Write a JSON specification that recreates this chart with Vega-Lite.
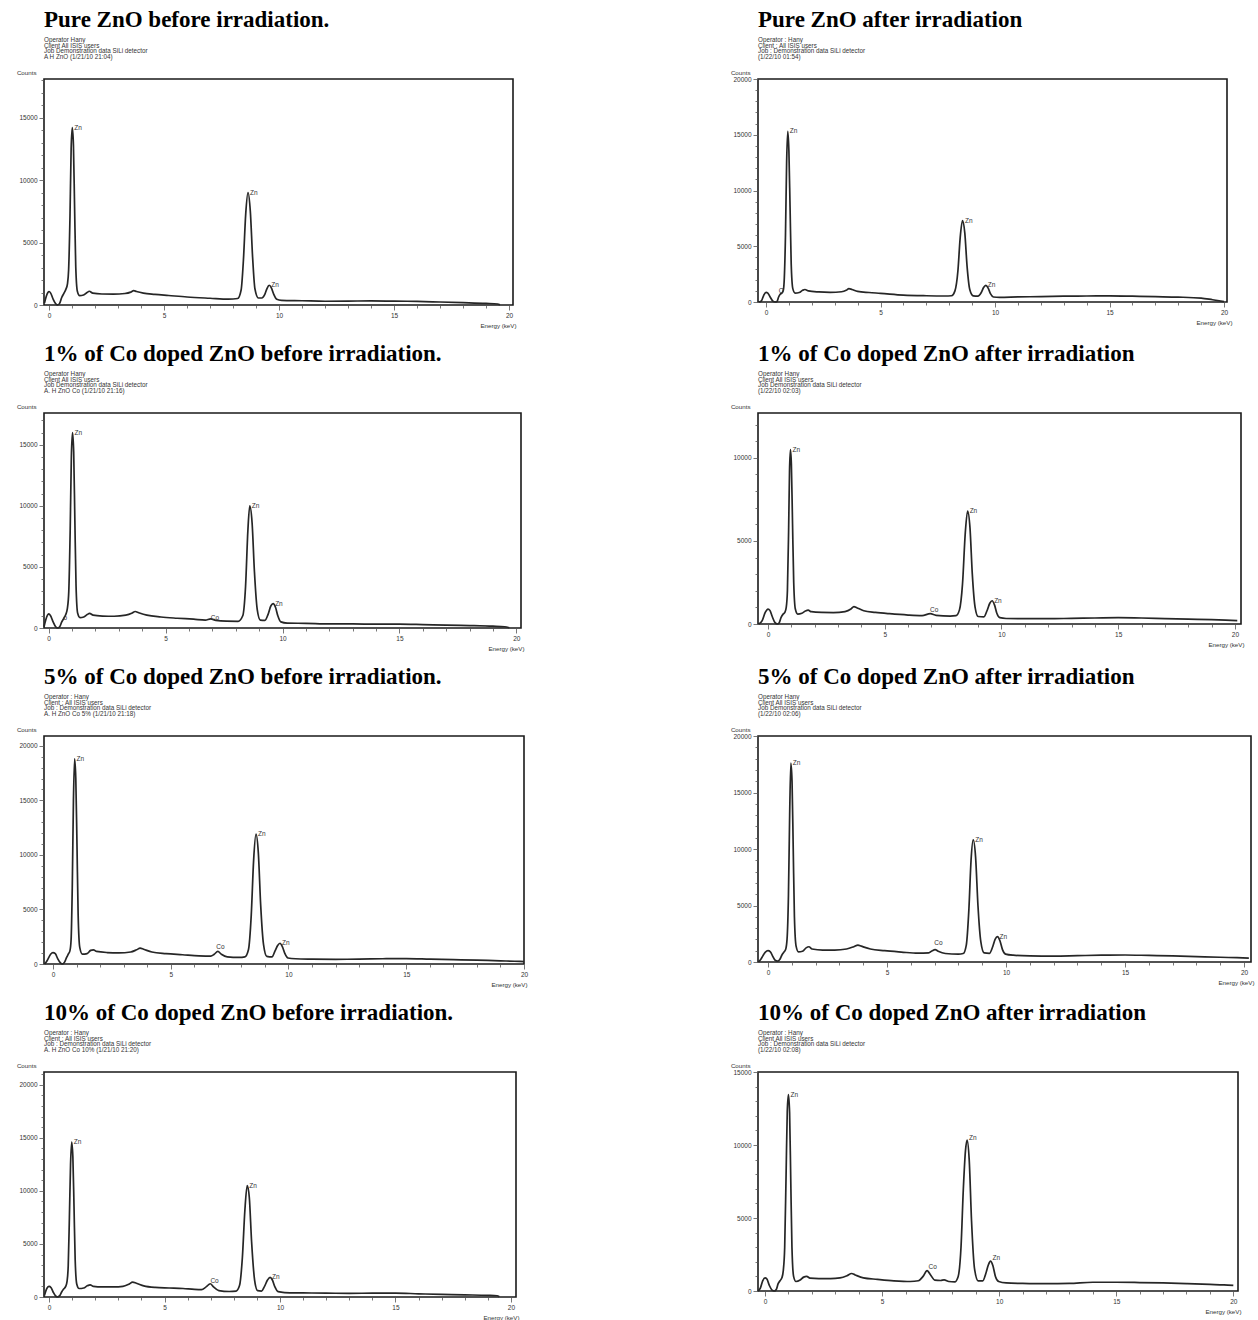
{
"$schema": "https://vega.github.io/schema/vega-lite/v6.json",
"background": "white",
"padding": {"left": 15, "top": 8, "right": 4, "bottom": 2},
"columns": 2,
"bounds": "flush",
"align": "each",
"spacing": {"row": 108, "column": 234},
"config": {
 "view": {"stroke": "#1a1a1a", "strokeWidth": 1.6},
 "font": "Liberation Sans",
 "title": {"font": "Liberation Serif", "fontSize": 23, "fontWeight": "bold", "color": "#000", "anchor": "start", "frame": "group", "offset": 9, "subtitleFont": "Liberation Sans", "subtitleFontSize": 6.3, "subtitleColor": "#333", "subtitlePadding": 5, "subtitleLineHeight": 5.6},
 "axis": {"labelFont": "Liberation Sans", "labelFontSize": 6.5, "labelColor": "#333", "titleFont": "Liberation Sans", "titleFontSize": 6.2, "titleFontWeight": "normal", "titleColor": "#333", "tickColor": "#555", "tickWidth": 0.8, "domain": false, "grid": false, "labelPadding": 2, "labelOverlap": false, "labelFlush": false},
 "axisY": {"titleAngle": 0, "titleX": -8, "titleY": -7, "titleAlign": "right", "titleBaseline": "middle"},
 "axisX": {"titleY": 20, "titleAlign": "right", "titleBaseline": "middle"},
 "line": {"stroke": "#262626", "strokeWidth": 1.7, "interpolate": "monotone", "clip": true},
 "text": {"font": "Liberation Sans", "fontSize": 6.5, "fill": "#333", "align": "left", "baseline": "middle", "dx": 2}
},
"datasets": {
"s1": [{"e":-0.2,"c":150},{"e":-0.12,"c":700},{"e":-0.05,"c":1000},{"e":0,"c":1080},{"e":0.07,"c":950},{"e":0.17,"c":500},{"e":0.28,"c":120},{"e":0.36,"c":10},{"e":0.45,"c":100},{"e":0.55,"c":600},{"e":0.65,"c":950},{"e":0.73,"c":1250},{"e":0.8,"c":1700},{"e":0.85,"c":2800},{"e":0.91,"c":7100},{"e":0.96,"c":12500},{"e":1.01,"c":14200},{"e":1.06,"c":12800},{"e":1.11,"c":7800},{"e":1.16,"c":3100},{"e":1.23,"c":1100},{"e":1.33,"c":750},{"e":1.5,"c":800},{"e":1.65,"c":1000},{"e":1.75,"c":1100},{"e":1.9,"c":950},{"e":2.3,"c":880},{"e":2.8,"c":870},{"e":3.3,"c":920},{"e":3.55,"c":1030},{"e":3.68,"c":1150},{"e":3.8,"c":1080},{"e":4.1,"c":950},{"e":4.6,"c":850},{"e":5.2,"c":760},{"e":6,"c":640},{"e":7,"c":540},{"e":7.8,"c":470},{"e":8.2,"c":520},{"e":8.35,"c":1200},{"e":8.45,"c":3600},{"e":8.55,"c":7300},{"e":8.65,"c":9000},{"e":8.75,"c":7500},{"e":8.85,"c":3800},{"e":8.95,"c":1300},{"e":9.1,"c":560},{"e":9.25,"c":560},{"e":9.38,"c":850},{"e":9.47,"c":1300},{"e":9.57,"c":1580},{"e":9.67,"c":1350},{"e":9.77,"c":850},{"e":9.9,"c":460},{"e":10.1,"c":370},{"e":11,"c":340},{"e":12,"c":300},{"e":13,"c":310},{"e":14,"c":330},{"e":15,"c":310},{"e":16,"c":290},{"e":17,"c":240},{"e":18,"c":190},{"e":19,"c":130},{"e":19.5,"c":80},{"e":19.6,"c":10}],
"l1": [{"e":1.01,"c":14200,"t":"Zn"},{"e":8.65,"c":9000,"t":"Zn"},{"e":9.57,"c":1580,"t":"Zn"}],
"s2": [{"e":-0.3,"c":0},{"e":-0.2,"c":100},{"e":-0.1,"c":600},{"e":0,"c":870},{"e":0.08,"c":800},{"e":0.18,"c":450},{"e":0.3,"c":80},{"e":0.4,"c":0},{"e":0.48,"c":50},{"e":0.55,"c":450},{"e":0.62,"c":700},{"e":0.7,"c":800},{"e":0.76,"c":1100},{"e":0.8,"c":2200},{"e":0.85,"c":6000},{"e":0.9,"c":12500},{"e":0.95,"c":15300},{"e":1.0,"c":13500},{"e":1.05,"c":8500},{"e":1.1,"c":3400},{"e":1.17,"c":1200},{"e":1.27,"c":800},{"e":1.45,"c":850},{"e":1.6,"c":1050},{"e":1.7,"c":1120},{"e":1.85,"c":1000},{"e":2.3,"c":900},{"e":2.8,"c":860},{"e":3.3,"c":920},{"e":3.5,"c":1050},{"e":3.62,"c":1200},{"e":3.75,"c":1120},{"e":4.0,"c":950},{"e":4.5,"c":850},{"e":5,"c":780},{"e":6,"c":620},{"e":7,"c":560},{"e":7.8,"c":540},{"e":8.1,"c":560},{"e":8.25,"c":1000},{"e":8.38,"c":2800},{"e":8.48,"c":5800},{"e":8.58,"c":7300},{"e":8.68,"c":6200},{"e":8.78,"c":3200},{"e":8.9,"c":1100},{"e":9.05,"c":550},{"e":9.25,"c":520},{"e":9.4,"c":850},{"e":9.5,"c":1300},{"e":9.6,"c":1500},{"e":9.7,"c":1250},{"e":9.8,"c":750},{"e":9.93,"c":450},{"e":10.2,"c":420},{"e":11,"c":460},{"e":12,"c":480},{"e":13,"c":520},{"e":14,"c":540},{"e":15,"c":550},{"e":16,"c":520},{"e":17,"c":480},{"e":18,"c":440},{"e":19,"c":350},{"e":19.5,"c":200},{"e":20,"c":40}],
"l2": [{"e":0.47,"c":1000,"t":"O"},{"e":0.95,"c":15300,"t":"Zn"},{"e":8.6,"c":7300,"t":"Zn"},{"e":9.6,"c":1500,"t":"Zn"}],
"s3": [{"e":-0.2,"c":100},{"e":-0.12,"c":700},{"e":-0.05,"c":1050},{"e":0,"c":1150},{"e":0.08,"c":1000},{"e":0.18,"c":550},{"e":0.3,"c":100},{"e":0.38,"c":0},{"e":0.47,"c":100},{"e":0.56,"c":500},{"e":0.65,"c":800},{"e":0.73,"c":1100},{"e":0.8,"c":1600},{"e":0.86,"c":3000},{"e":0.92,"c":8000},{"e":0.97,"c":14000},{"e":1.02,"c":16000},{"e":1.07,"c":14400},{"e":1.12,"c":8800},{"e":1.17,"c":3500},{"e":1.24,"c":1200},{"e":1.34,"c":850},{"e":1.5,"c":900},{"e":1.65,"c":1100},{"e":1.75,"c":1200},{"e":1.9,"c":1050},{"e":2.3,"c":980},{"e":2.8,"c":960},{"e":3.3,"c":1050},{"e":3.55,"c":1200},{"e":3.7,"c":1350},{"e":3.85,"c":1250},{"e":4.2,"c":1050},{"e":4.8,"c":900},{"e":5.5,"c":800},{"e":6.2,"c":720},{"e":6.7,"c":650},{"e":6.93,"c":750},{"e":7.15,"c":620},{"e":7.6,"c":560},{"e":8.1,"c":550},{"e":8.3,"c":1000},{"e":8.42,"c":3400},{"e":8.52,"c":8000},{"e":8.6,"c":10000},{"e":8.7,"c":8600},{"e":8.8,"c":4600},{"e":8.92,"c":1500},{"e":9.05,"c":650},{"e":9.25,"c":620},{"e":9.38,"c":1100},{"e":9.5,"c":1800},{"e":9.6,"c":2000},{"e":9.7,"c":1700},{"e":9.8,"c":1000},{"e":9.93,"c":500},{"e":10.2,"c":400},{"e":11,"c":380},{"e":12,"c":330},{"e":13,"c":330},{"e":14,"c":320},{"e":15,"c":320},{"e":16,"c":280},{"e":17,"c":230},{"e":18,"c":200},{"e":19,"c":150},{"e":19.5,"c":100},{"e":19.7,"c":20}],
"l3": [{"e":0.55,"c":800,"t":"o"},{"e":1.02,"c":16000,"t":"Zn"},{"e":6.85,"c":850,"t":"Co"},{"e":8.6,"c":10000,"t":"Zn"},{"e":9.6,"c":2000,"t":"Zn"}],
"s4": [{"e":-0.4,"c":0},{"e":-0.25,"c":200},{"e":-0.12,"c":700},{"e":0,"c":900},{"e":0.08,"c":820},{"e":0.18,"c":450},{"e":0.3,"c":80},{"e":0.4,"c":0},{"e":0.48,"c":80},{"e":0.56,"c":400},{"e":0.65,"c":600},{"e":0.72,"c":700},{"e":0.78,"c":1000},{"e":0.83,"c":2000},{"e":0.88,"c":5500},{"e":0.92,"c":9200},{"e":0.96,"c":10500},{"e":1.0,"c":9600},{"e":1.05,"c":6000},{"e":1.1,"c":2500},{"e":1.17,"c":900},{"e":1.27,"c":600},{"e":1.45,"c":650},{"e":1.6,"c":780},{"e":1.72,"c":830},{"e":1.85,"c":740},{"e":2.3,"c":700},{"e":2.8,"c":690},{"e":3.3,"c":750},{"e":3.55,"c":900},{"e":3.68,"c":1050},{"e":3.8,"c":980},{"e":4.1,"c":800},{"e":4.6,"c":700},{"e":5.2,"c":620},{"e":6,"c":540},{"e":6.6,"c":510},{"e":6.95,"c":620},{"e":7.2,"c":520},{"e":7.8,"c":480},{"e":8.05,"c":500},{"e":8.2,"c":850},{"e":8.33,"c":2400},{"e":8.45,"c":5500},{"e":8.55,"c":6800},{"e":8.65,"c":5800},{"e":8.75,"c":3000},{"e":8.87,"c":1000},{"e":9.0,"c":450},{"e":9.25,"c":430},{"e":9.38,"c":800},{"e":9.5,"c":1250},{"e":9.6,"c":1400},{"e":9.7,"c":1150},{"e":9.8,"c":650},{"e":9.93,"c":380},{"e":10.2,"c":330},{"e":11,"c":320},{"e":12,"c":320},{"e":13,"c":340},{"e":14,"c":360},{"e":15,"c":380},{"e":16,"c":360},{"e":17,"c":320},{"e":18,"c":290},{"e":19,"c":260},{"e":19.6,"c":230},{"e":20.1,"c":200}],
"l4": [{"e":0.96,"c":10500,"t":"Zn"},{"e":6.85,"c":850,"t":"Co"},{"e":8.55,"c":6800,"t":"Zn"},{"e":9.6,"c":1400,"t":"Zn"}],
"s5": [{"e":-0.35,"c":0},{"e":-0.25,"c":300},{"e":-0.1,"c":900},{"e":0,"c":1050},{"e":0.1,"c":950},{"e":0.2,"c":500},{"e":0.32,"c":100},{"e":0.4,"c":0},{"e":0.5,"c":200},{"e":0.58,"c":600},{"e":0.65,"c":900},{"e":0.72,"c":1200},{"e":0.77,"c":2200},{"e":0.82,"c":7000},{"e":0.87,"c":15000},{"e":0.92,"c":18800},{"e":0.97,"c":17000},{"e":1.02,"c":11000},{"e":1.07,"c":4500},{"e":1.14,"c":1500},{"e":1.25,"c":900},{"e":1.45,"c":950},{"e":1.6,"c":1250},{"e":1.72,"c":1300},{"e":1.85,"c":1150},{"e":2.3,"c":1050},{"e":2.8,"c":1020},{"e":3.3,"c":1100},{"e":3.55,"c":1300},{"e":3.7,"c":1450},{"e":3.85,"c":1350},{"e":4.2,"c":1100},{"e":4.8,"c":950},{"e":5.5,"c":850},{"e":6.2,"c":750},{"e":6.7,"c":720},{"e":6.85,"c":900},{"e":7.0,"c":1150},{"e":7.15,"c":900},{"e":7.4,"c":650},{"e":7.9,"c":600},{"e":8.15,"c":650},{"e":8.3,"c":1300},{"e":8.42,"c":4500},{"e":8.52,"c":9500},{"e":8.62,"c":11900},{"e":8.72,"c":10200},{"e":8.82,"c":5400},{"e":8.94,"c":1800},{"e":9.08,"c":700},{"e":9.3,"c":650},{"e":9.43,"c":1200},{"e":9.54,"c":1700},{"e":9.64,"c":1900},{"e":9.74,"c":1600},{"e":9.85,"c":950},{"e":9.98,"c":550},{"e":10.3,"c":480},{"e":11,"c":450},{"e":12,"c":430},{"e":13,"c":450},{"e":14,"c":480},{"e":15,"c":500},{"e":16,"c":450},{"e":17,"c":400},{"e":18,"c":350},{"e":19,"c":290},{"e":19.6,"c":250},{"e":20,"c":220}],
"l5": [{"e":0.92,"c":18800,"t":"Zn"},{"e":6.85,"c":1550,"t":"Co"},{"e":8.62,"c":11900,"t":"Zn"},{"e":9.64,"c":1900,"t":"Zn"}],
"s6": [{"e":-0.4,"c":0},{"e":-0.3,"c":250},{"e":-0.12,"c":850},{"e":0,"c":1000},{"e":0.1,"c":900},{"e":0.2,"c":500},{"e":0.3,"c":150},{"e":0.4,"c":80},{"e":0.5,"c":250},{"e":0.58,"c":600},{"e":0.66,"c":850},{"e":0.74,"c":1100},{"e":0.8,"c":2000},{"e":0.86,"c":6000},{"e":0.91,"c":13000},{"e":0.96,"c":17600},{"e":1.01,"c":16000},{"e":1.06,"c":10000},{"e":1.11,"c":4000},{"e":1.18,"c":1400},{"e":1.28,"c":900},{"e":1.45,"c":950},{"e":1.6,"c":1250},{"e":1.72,"c":1350},{"e":1.85,"c":1150},{"e":2.3,"c":1050},{"e":2.8,"c":1050},{"e":3.3,"c":1150},{"e":3.6,"c":1350},{"e":3.78,"c":1500},{"e":3.92,"c":1400},{"e":4.3,"c":1150},{"e":4.9,"c":1000},{"e":5.6,"c":880},{"e":6.3,"c":780},{"e":6.75,"c":800},{"e":6.9,"c":1000},{"e":7.02,"c":1100},{"e":7.15,"c":950},{"e":7.45,"c":750},{"e":8.0,"c":700},{"e":8.2,"c":750},{"e":8.33,"c":1500},{"e":8.44,"c":4700},{"e":8.53,"c":9000},{"e":8.62,"c":10800},{"e":8.72,"c":9300},{"e":8.82,"c":5000},{"e":8.94,"c":1800},{"e":9.08,"c":800},{"e":9.3,"c":760},{"e":9.43,"c":1300},{"e":9.54,"c":2000},{"e":9.64,"c":2250},{"e":9.74,"c":1900},{"e":9.85,"c":1100},{"e":9.98,"c":700},{"e":10.3,"c":600},{"e":11,"c":540},{"e":12,"c":520},{"e":13,"c":560},{"e":14,"c":600},{"e":15,"c":620},{"e":16,"c":580},{"e":17,"c":540},{"e":18,"c":480},{"e":19,"c":420},{"e":19.7,"c":380},{"e":20.2,"c":350}],
"l6": [{"e":0.96,"c":17600,"t":"Zn"},{"e":6.9,"c":1650,"t":"Co"},{"e":8.62,"c":10800,"t":"Zn"},{"e":9.64,"c":2250,"t":"Zn"}],
"s7": [{"e":-0.2,"c":150},{"e":-0.12,"c":700},{"e":-0.05,"c":950},{"e":0,"c":1000},{"e":0.08,"c":900},{"e":0.18,"c":450},{"e":0.28,"c":100},{"e":0.36,"c":0},{"e":0.45,"c":100},{"e":0.55,"c":500},{"e":0.63,"c":750},{"e":0.72,"c":1000},{"e":0.78,"c":1500},{"e":0.83,"c":3000},{"e":0.88,"c":7500},{"e":0.93,"c":12500},{"e":0.98,"c":14600},{"e":1.03,"c":13200},{"e":1.08,"c":8500},{"e":1.13,"c":3500},{"e":1.2,"c":1200},{"e":1.3,"c":800},{"e":1.5,"c":850},{"e":1.65,"c":1050},{"e":1.78,"c":1150},{"e":1.92,"c":1000},{"e":2.3,"c":950},{"e":2.8,"c":950},{"e":3.2,"c":1000},{"e":3.45,"c":1200},{"e":3.62,"c":1400},{"e":3.78,"c":1300},{"e":4.1,"c":1050},{"e":4.6,"c":900},{"e":5.2,"c":850},{"e":5.8,"c":800},{"e":6.3,"c":720},{"e":6.6,"c":700},{"e":6.8,"c":950},{"e":6.98,"c":1250},{"e":7.12,"c":950},{"e":7.35,"c":600},{"e":7.8,"c":520},{"e":8.1,"c":560},{"e":8.25,"c":1100},{"e":8.37,"c":3700},{"e":8.48,"c":8200},{"e":8.58,"c":10500},{"e":8.67,"c":9400},{"e":8.77,"c":5200},{"e":8.9,"c":1600},{"e":9.03,"c":600},{"e":9.2,"c":560},{"e":9.33,"c":1000},{"e":9.46,"c":1600},{"e":9.57,"c":1850},{"e":9.67,"c":1600},{"e":9.78,"c":950},{"e":9.92,"c":500},{"e":10.2,"c":420},{"e":11,"c":390},{"e":12,"c":360},{"e":13,"c":350},{"e":14,"c":360},{"e":15,"c":370},{"e":16,"c":300},{"e":17,"c":240},{"e":18,"c":200},{"e":19,"c":160},{"e":19.4,"c":120},{"e":19.5,"c":20}],
"l7": [{"e":0.98,"c":14600,"t":"Zn"},{"e":6.9,"c":1500,"t":"Co"},{"e":8.58,"c":10500,"t":"Zn"},{"e":9.57,"c":1850,"t":"Zn"}],
"s8": [{"e":-0.3,"c":0},{"e":-0.2,"c":200},{"e":-0.1,"c":700},{"e":0,"c":900},{"e":0.08,"c":820},{"e":0.18,"c":400},{"e":0.3,"c":60},{"e":0.4,"c":0},{"e":0.48,"c":100},{"e":0.56,"c":500},{"e":0.64,"c":700},{"e":0.72,"c":900},{"e":0.78,"c":1400},{"e":0.84,"c":3000},{"e":0.9,"c":8000},{"e":0.95,"c":12300},{"e":1.0,"c":13450},{"e":1.05,"c":12200},{"e":1.1,"c":7500},{"e":1.15,"c":3000},{"e":1.22,"c":1000},{"e":1.32,"c":650},{"e":1.5,"c":750},{"e":1.65,"c":950},{"e":1.78,"c":1000},{"e":1.92,"c":880},{"e":2.3,"c":850},{"e":2.8,"c":850},{"e":3.2,"c":900},{"e":3.5,"c":1050},{"e":3.7,"c":1200},{"e":3.85,"c":1100},{"e":4.2,"c":900},{"e":4.8,"c":800},{"e":5.5,"c":700},{"e":6.2,"c":650},{"e":6.55,"c":700},{"e":6.75,"c":1000},{"e":6.92,"c":1400},{"e":7.05,"c":1150},{"e":7.25,"c":750},{"e":7.5,"c":720},{"e":7.65,"c":760},{"e":7.85,"c":650},{"e":8.1,"c":620},{"e":8.25,"c":1000},{"e":8.37,"c":3000},{"e":8.47,"c":7000},{"e":8.56,"c":9600},{"e":8.63,"c":10340},{"e":8.72,"c":9000},{"e":8.82,"c":4800},{"e":8.95,"c":1500},{"e":9.1,"c":700},{"e":9.3,"c":700},{"e":9.43,"c":1200},{"e":9.54,"c":1800},{"e":9.63,"c":2050},{"e":9.73,"c":1750},{"e":9.84,"c":1000},{"e":9.98,"c":650},{"e":10.3,"c":550},{"e":11,"c":520},{"e":12,"c":500},{"e":13,"c":520},{"e":14,"c":600},{"e":15,"c":600},{"e":16,"c":580},{"e":17,"c":550},{"e":18,"c":500},{"e":19,"c":450},{"e":19.6,"c":420},{"e":20,"c":380}],
"l8": [{"e":1.0,"c":13450,"t":"Zn"},{"e":6.9,"c":1650,"t":"Co"},{"e":8.63,"c":10500,"t":"Zn"},{"e":9.63,"c":2250,"t":"Zn"}]
},
"concat": [
{"width": 469, "height": 226,
 "title": {"text": "Pure ZnO before irradiation.", "subtitle": ["Operator  Hany", "Client  All  ISIS  users", "Job  Demonstration data  SiLi detector", "A H ZnO (1/21/10 21:04)"]},
 "layer": [
  {"data": {"name": "s1"}, "mark": {"type": "line"},
   "encoding": {
    "x": {"field": "e", "type": "quantitative", "scale": {"domain": [-0.22, 20.17], "nice": false, "zero": false},
      "axis": {"title": "Energy (keV)", "titleX": 472, "tickCount": 500, "labelOverlap": false, "values": [0,1,2,3,4,5,6,7,8,9,10,11,12,13,14,15,16,17,18,19,20], "labelExpr": "datum.value % 5 === 0 ? '' + datum.value : ''", "tickSize": {"condition": {"test": "datum.value % 5 === 0", "value": 5}, "value": 3}}},
    "y": {"field": "c", "type": "quantitative", "scale": {"domain": [0, 18100], "nice": false},
      "axis": {"title": "Counts", "tickCount": 500, "labelOverlap": false, "values": [0,1000,2000,3000,4000,5000,6000,7000,8000,9000,10000,11000,12000,13000,14000,15000,16000,17000,18000], "labelExpr": "datum.value % 5000 === 0 ? '' + datum.value : ''", "tickSize": {"condition": {"test": "datum.value % 5000 === 0", "value": 5}, "value": 3}}}}},
  {"data": {"name": "l1"}, "mark": {"type": "text"},
   "encoding": {"x": {"field": "e", "type": "quantitative"}, "y": {"field": "c", "type": "quantitative"}, "text": {"field": "t"}}}
 ]},
{"width": 469, "height": 223,
 "title": {"text": "Pure ZnO after irradiation", "subtitle": ["Operator : Hany", "Client : All  ISIS  users", "Job : Demonstration data  SiLi detector", " (1/22/10 01:54)"]},
 "layer": [
  {"data": {"name": "s2"}, "mark": {"type": "line"},
   "encoding": {
    "x": {"field": "e", "type": "quantitative", "scale": {"domain": [-0.35, 20.13], "nice": false, "zero": false},
      "axis": {"title": "Energy (keV)", "titleX": 474, "tickCount": 500, "labelOverlap": false, "values": [0,1,2,3,4,5,6,7,8,9,10,11,12,13,14,15,16,17,18,19,20], "labelExpr": "datum.value % 5 === 0 ? '' + datum.value : ''", "tickSize": {"condition": {"test": "datum.value % 5 === 0", "value": 5}, "value": 3}}},
    "y": {"field": "c", "type": "quantitative", "scale": {"domain": [0, 20000], "nice": false},
      "axis": {"title": "Counts", "tickCount": 500, "labelOverlap": false, "values": [0,1000,2000,3000,4000,5000,6000,7000,8000,9000,10000,11000,12000,13000,14000,15000,16000,17000,18000,19000,20000], "labelExpr": "datum.value % 5000 === 0 ? '' + datum.value : ''", "tickSize": {"condition": {"test": "datum.value % 5000 === 0", "value": 5}, "value": 3}}}}},
  {"data": {"name": "l2"}, "mark": {"type": "text"},
   "encoding": {"x": {"field": "e", "type": "quantitative"}, "y": {"field": "c", "type": "quantitative"}, "text": {"field": "t"}}}
 ]},
{"width": 477, "height": 215,
 "title": {"text": "1% of Co doped  ZnO before irradiation.", "subtitle": ["Operator  Hany", "Client  All  ISIS  users", "Job  Demonstration data  SiLi detector", "A. H ZnO Co (1/21/10 21:16)"]},
 "layer": [
  {"data": {"name": "s3"}, "mark": {"type": "line"},
   "encoding": {
    "x": {"field": "e", "type": "quantitative", "scale": {"domain": [-0.2, 20.2], "nice": false, "zero": false},
      "axis": {"title": "Energy (keV)", "titleX": 480, "tickCount": 500, "labelOverlap": false, "values": [0,1,2,3,4,5,6,7,8,9,10,11,12,13,14,15,16,17,18,19,20], "labelExpr": "datum.value % 5 === 0 ? '' + datum.value : ''", "tickSize": {"condition": {"test": "datum.value % 5 === 0", "value": 5}, "value": 3}}},
    "y": {"field": "c", "type": "quantitative", "scale": {"domain": [0, 17600], "nice": false},
      "axis": {"title": "Counts", "tickCount": 500, "labelOverlap": false, "values": [0,1000,2000,3000,4000,5000,6000,7000,8000,9000,10000,11000,12000,13000,14000,15000,16000,17000], "labelExpr": "datum.value % 5000 === 0 ? '' + datum.value : ''", "tickSize": {"condition": {"test": "datum.value % 5000 === 0", "value": 5}, "value": 3}}}}},
  {"data": {"name": "l3"}, "mark": {"type": "text"},
   "encoding": {"x": {"field": "e", "type": "quantitative"}, "y": {"field": "c", "type": "quantitative"}, "text": {"field": "t"}}}
 ]},
{"width": 483, "height": 211,
 "title": {"text": "1% of Co doped  ZnO after irradiation", "subtitle": ["Operator  Hany", "Client  All  ISIS  users", "Job  Demonstration data  SiLi detector", " (1/22/10 02:03)"]},
 "layer": [
  {"data": {"name": "s4"}, "mark": {"type": "line"},
   "encoding": {
    "x": {"field": "e", "type": "quantitative", "scale": {"domain": [-0.43, 20.26], "nice": false, "zero": false},
      "axis": {"title": "Energy (keV)", "titleX": 486, "tickCount": 500, "labelOverlap": false, "values": [0,1,2,3,4,5,6,7,8,9,10,11,12,13,14,15,16,17,18,19,20], "labelExpr": "datum.value % 5 === 0 ? '' + datum.value : ''", "tickSize": {"condition": {"test": "datum.value % 5 === 0", "value": 5}, "value": 3}}},
    "y": {"field": "c", "type": "quantitative", "scale": {"domain": [0, 12700], "nice": false},
      "axis": {"title": "Counts", "tickCount": 500, "labelOverlap": false, "values": [0,1000,2000,3000,4000,5000,6000,7000,8000,9000,10000,11000,12000], "labelExpr": "datum.value % 5000 === 0 ? '' + datum.value : ''", "tickSize": {"condition": {"test": "datum.value % 5000 === 0", "value": 5}, "value": 3}}}}},
  {"data": {"name": "l4"}, "mark": {"type": "text"},
   "encoding": {"x": {"field": "e", "type": "quantitative"}, "y": {"field": "c", "type": "quantitative"}, "text": {"field": "t"}}}
 ]},
{"width": 480, "height": 228,
 "title": {"text": "5% of Co doped  ZnO before irradiation.", "subtitle": ["Operator : Hany", "Client : All  ISIS  users", "Job : Demonstration data  SiLi detector", "A. H ZnO Co 5% (1/21/10 21:18)"]},
 "layer": [
  {"data": {"name": "s5"}, "mark": {"type": "line"},
   "encoding": {
    "x": {"field": "e", "type": "quantitative", "scale": {"domain": [-0.38, 20.0], "nice": false, "zero": false},
      "axis": {"title": "Energy (keV)", "titleX": 483, "tickCount": 500, "labelOverlap": false, "values": [0,1,2,3,4,5,6,7,8,9,10,11,12,13,14,15,16,17,18,19,20], "labelExpr": "datum.value % 5 === 0 ? '' + datum.value : ''", "tickSize": {"condition": {"test": "datum.value % 5 === 0", "value": 5}, "value": 3}}},
    "y": {"field": "c", "type": "quantitative", "scale": {"domain": [0, 20900], "nice": false},
      "axis": {"title": "Counts", "tickCount": 500, "labelOverlap": false, "values": [0,1000,2000,3000,4000,5000,6000,7000,8000,9000,10000,11000,12000,13000,14000,15000,16000,17000,18000,19000,20000], "labelExpr": "datum.value % 5000 === 0 ? '' + datum.value : ''", "tickSize": {"condition": {"test": "datum.value % 5000 === 0", "value": 5}, "value": 3}}}}},
  {"data": {"name": "l5"}, "mark": {"type": "text"},
   "encoding": {"x": {"field": "e", "type": "quantitative"}, "y": {"field": "c", "type": "quantitative"}, "text": {"field": "t"}}}
 ]},
{"width": 493, "height": 226,
 "title": {"text": "5% of Co doped  ZnO after irradiation", "subtitle": ["Operator  Hany", "Client  All  ISIS  users", "Job  Demonstration data  SiLi detector", " (1/22/10 02:06)"]},
 "layer": [
  {"data": {"name": "s6"}, "mark": {"type": "line"},
   "encoding": {
    "x": {"field": "e", "type": "quantitative", "scale": {"domain": [-0.42, 20.29], "nice": false, "zero": false},
      "axis": {"title": "Energy (keV)", "titleX": 496, "tickCount": 500, "labelOverlap": false, "values": [0,1,2,3,4,5,6,7,8,9,10,11,12,13,14,15,16,17,18,19,20], "labelExpr": "datum.value % 5 === 0 ? '' + datum.value : ''", "tickSize": {"condition": {"test": "datum.value % 5 === 0", "value": 5}, "value": 3}}},
    "y": {"field": "c", "type": "quantitative", "scale": {"domain": [0, 20000], "nice": false},
      "axis": {"title": "Counts", "tickCount": 500, "labelOverlap": false, "values": [0,1000,2000,3000,4000,5000,6000,7000,8000,9000,10000,11000,12000,13000,14000,15000,16000,17000,18000,19000,20000], "labelExpr": "datum.value % 5000 === 0 ? '' + datum.value : ''", "tickSize": {"condition": {"test": "datum.value % 5000 === 0", "value": 5}, "value": 3}}}}},
  {"data": {"name": "l6"}, "mark": {"type": "text"},
   "encoding": {"x": {"field": "e", "type": "quantitative"}, "y": {"field": "c", "type": "quantitative"}, "text": {"field": "t"}}}
 ]},
{"width": 472, "height": 225,
 "title": {"text": "10% of Co doped  ZnO before irradiation.", "subtitle": ["Operator : Hany", "Client : All  ISIS  users", "Job : Demonstration data  SiLi detector", "A. H ZnO Co 10% (1/21/10 21:20)"]},
 "layer": [
  {"data": {"name": "s7"}, "mark": {"type": "line"},
   "encoding": {
    "x": {"field": "e", "type": "quantitative", "scale": {"domain": [-0.22, 20.22], "nice": false, "zero": false},
      "axis": {"title": "Energy (keV)", "titleX": 475, "tickCount": 500, "labelOverlap": false, "values": [0,1,2,3,4,5,6,7,8,9,10,11,12,13,14,15,16,17,18,19,20], "labelExpr": "datum.value % 5 === 0 ? '' + datum.value : ''", "tickSize": {"condition": {"test": "datum.value % 5 === 0", "value": 5}, "value": 3}}},
    "y": {"field": "c", "type": "quantitative", "scale": {"domain": [0, 21200], "nice": false},
      "axis": {"title": "Counts", "tickCount": 500, "labelOverlap": false, "values": [0,1000,2000,3000,4000,5000,6000,7000,8000,9000,10000,11000,12000,13000,14000,15000,16000,17000,18000,19000,20000,21000], "labelExpr": "datum.value % 5000 === 0 ? '' + datum.value : ''", "tickSize": {"condition": {"test": "datum.value % 5000 === 0", "value": 5}, "value": 3}}}}},
  {"data": {"name": "l7"}, "mark": {"type": "text"},
   "encoding": {"x": {"field": "e", "type": "quantitative"}, "y": {"field": "c", "type": "quantitative"}, "text": {"field": "t"}}}
 ]},
{"width": 480, "height": 219,
 "title": {"text": "10% of Co doped  ZnO after irradiation", "subtitle": ["Operator : Hany", "Client  All  ISIS  users", "Job : Demonstration data  SiLi detector", " (1/22/10 02:08)"]},
 "layer": [
  {"data": {"name": "s8"}, "mark": {"type": "line"},
   "encoding": {
    "x": {"field": "e", "type": "quantitative", "scale": {"domain": [-0.3, 20.2], "nice": false, "zero": false},
      "axis": {"title": "Energy (keV)", "titleX": 483, "tickCount": 500, "labelOverlap": false, "values": [0,1,2,3,4,5,6,7,8,9,10,11,12,13,14,15,16,17,18,19,20], "labelExpr": "datum.value % 5 === 0 ? '' + datum.value : ''", "tickSize": {"condition": {"test": "datum.value % 5 === 0", "value": 5}, "value": 3}}},
    "y": {"field": "c", "type": "quantitative", "scale": {"domain": [0, 15000], "nice": false},
      "axis": {"title": "Counts", "tickCount": 500, "labelOverlap": false, "values": [0,1000,2000,3000,4000,5000,6000,7000,8000,9000,10000,11000,12000,13000,14000,15000], "labelExpr": "datum.value % 5000 === 0 ? '' + datum.value : ''", "tickSize": {"condition": {"test": "datum.value % 5000 === 0", "value": 5}, "value": 3}}}}},
  {"data": {"name": "l8"}, "mark": {"type": "text"},
   "encoding": {"x": {"field": "e", "type": "quantitative"}, "y": {"field": "c", "type": "quantitative"}, "text": {"field": "t"}}}
 ]}
]
}
